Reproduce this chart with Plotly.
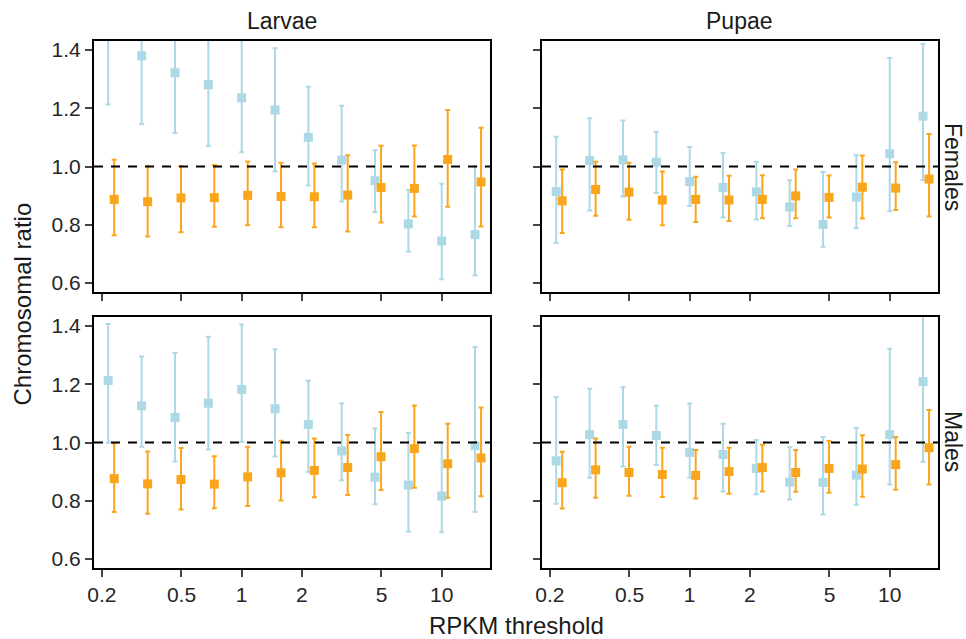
import plotly.graph_objects as go

# ---------------- data ----------------
thresholds = [0.215, 0.316, 0.464, 0.681, 1.0, 1.468, 2.154, 3.162, 4.642, 6.813, 10.0, 14.68]
x_tickvals = [0.2, 0.5, 1, 2, 5, 10]
x_ticktext = ["0.2", "0.5", "1", "2", "5", "10"]
y_tickvals = [0.6, 0.8, 1.0, 1.2, 1.4]
y_ticktext = ["0.6", "0.8", "1.0", "1.2", "1.4"]
ref_ratio = 1.0
stages = ["Larvae", "Pupae"]
sexes = ["Females", "Males"]

# Larvae / Females
lf_blue_mean = [1.52, 1.380, 1.322, 1.281, 1.236, 1.194, 1.100, 1.022, 0.951, 0.803, 0.744, 0.766]
lf_blue_lo = [1.213, 1.146, 1.115, 1.070, 1.049, 0.983, 0.935, 0.880, 0.844, 0.708, 0.613, 0.626]
lf_blue_hi = [1.83, 1.61, 1.53, 1.49, 1.44, 1.406, 1.274, 1.209, 1.056, 0.919, 0.941, 1.000]
lf_orange_mean = [0.887, 0.879, 0.892, 0.893, 0.901, 0.897, 0.896, 0.902, 0.928, 0.925, 1.024, 0.947]
lf_orange_lo = [0.764, 0.760, 0.774, 0.793, 0.798, 0.791, 0.791, 0.777, 0.808, 0.828, 0.862, 0.794]
lf_orange_hi = [1.023, 1.001, 1.001, 1.005, 1.017, 1.013, 1.010, 1.039, 1.071, 1.072, 1.194, 1.133]

# Pupae / Females
pf_blue_mean = [0.914, 1.020, 1.023, 1.015, 0.948, 0.928, 0.913, 0.861, 0.801, 0.895, 1.044, 1.173]
pf_blue_lo = [0.737, 0.849, 0.897, 0.909, 0.864, 0.825, 0.818, 0.796, 0.724, 0.788, 0.846, 0.954]
pf_blue_hi = [1.102, 1.166, 1.158, 1.119, 1.067, 1.046, 1.016, 0.953, 0.981, 1.039, 1.373, 1.421]
pf_orange_mean = [0.882, 0.921, 0.912, 0.885, 0.887, 0.885, 0.887, 0.899, 0.894, 0.929, 0.926, 0.957]
pf_orange_lo = [0.772, 0.831, 0.817, 0.798, 0.809, 0.813, 0.822, 0.822, 0.825, 0.821, 0.851, 0.828]
pf_orange_hi = [0.990, 1.016, 1.013, 0.983, 0.965, 0.968, 0.970, 0.990, 0.969, 1.038, 1.015, 1.112]

# Larvae / Males
lm_blue_mean = [1.213, 1.126, 1.086, 1.135, 1.182, 1.116, 1.062, 0.971, 0.881, 0.854, 0.816, 0.989]
lm_blue_lo = [0.999, 0.985, 0.935, 0.976, 1.003, 0.952, 0.899, 0.870, 0.788, 0.694, 0.692, 0.762]
lm_blue_hi = [1.407, 1.295, 1.307, 1.363, 1.405, 1.320, 1.212, 1.135, 1.048, 1.033, 1.000, 1.328]
lm_orange_mean = [0.876, 0.858, 0.873, 0.857, 0.882, 0.896, 0.904, 0.914, 0.951, 0.979, 0.927, 0.947]
lm_orange_lo = [0.761, 0.755, 0.770, 0.774, 0.782, 0.801, 0.812, 0.820, 0.837, 0.845, 0.810, 0.815]
lm_orange_hi = [0.997, 0.969, 0.981, 0.953, 0.985, 1.006, 1.014, 1.026, 1.105, 1.127, 1.064, 1.120]

# Pupae / Males
pm_blue_mean = [0.937, 1.027, 1.062, 1.024, 0.966, 0.959, 0.911, 0.864, 0.863, 0.888, 1.027, 1.209]
pm_blue_lo = [0.790, 0.879, 0.918, 0.923, 0.879, 0.832, 0.822, 0.804, 0.753, 0.786, 0.856, 0.934]
pm_blue_hi = [1.156, 1.185, 1.190, 1.127, 1.134, 1.064, 1.009, 0.984, 1.019, 1.050, 1.322, 1.48]
pm_orange_mean = [0.862, 0.906, 0.897, 0.890, 0.887, 0.900, 0.914, 0.897, 0.911, 0.909, 0.924, 0.982]
pm_orange_lo = [0.773, 0.810, 0.817, 0.813, 0.808, 0.824, 0.832, 0.831, 0.827, 0.814, 0.838, 0.856]
pm_orange_hi = [0.968, 1.014, 0.985, 0.982, 0.974, 0.982, 0.992, 0.974, 1.005, 1.025, 1.019, 1.112]

# ---------------- styling ----------------
BLUE = "#ADD8E6"
ORANGE = "#F9A61C"
FONT = "Liberation Sans, Arial, Helvetica, sans-serif"
DODGE = 10 ** 0.03  # orange offset factor on the log axis

panels = [
    ("", (lf_blue_mean, lf_blue_lo, lf_blue_hi), (lf_orange_mean, lf_orange_lo, lf_orange_hi)),
    ("2", (pf_blue_mean, pf_blue_lo, pf_blue_hi), (pf_orange_mean, pf_orange_lo, pf_orange_hi)),
    ("3", (lm_blue_mean, lm_blue_lo, lm_blue_hi), (lm_orange_mean, lm_orange_lo, lm_orange_hi)),
    ("4", (pm_blue_mean, pm_blue_lo, pm_blue_hi), (pm_orange_mean, pm_orange_lo, pm_orange_hi)),
]

fig = go.Figure()

for suf, blue, orange in panels:
    for (mean, lo, hi), col, shift, name in [
        (blue, BLUE, 1.0, "blue"),
        (orange, ORANGE, DODGE, "orange"),
    ]:
        fig.add_trace(go.Scatter(
            x=[t * shift for t in thresholds],
            y=mean,
            mode="markers",
            name=name,
            showlegend=False,
            marker=dict(symbol="square", size=9, color=col),
            error_y=dict(
                type="data", symmetric=False,
                array=[h - m for h, m in zip(hi, mean)],
                arrayminus=[m - l for m, l in zip(mean, lo)],
                color=col, thickness=2, width=2.5,
            ),
            xaxis="x" + suf, yaxis="y" + suf,
            cliponaxis=True,
        ))
    fig.add_shape(type="line", xref=f"x{suf} domain", yref="y" + suf,
                  x0=0, x1=1, y0=ref_ratio, y1=ref_ratio,
                  line=dict(color="black", width=2, dash="9px,8px"), layer="above")

# axes / layout geometry (pixels of the 966x639 page)
L, R, T, B = 94, 28, 41, 71
W, H = 966, 639
PW, PH = W - L - R, H - T - B
xdom = [[0, 396 / PW], [(542 - L) / PW, 1]]
ydom = [[(568 - 292) / PH, 1], [0, (568 - 317) / PH]]

xrange_log = [-0.7385, 1.2415]
yrange = [0.569, 1.431]

common_axis = dict(
    showline=True, linecolor="black", linewidth=2, mirror=True,
    ticks="outside", ticklen=7, tickwidth=2, tickcolor="#444444",
    showgrid=False, zeroline=False,
    tickfont=dict(family=FONT, size=21, color="#262626"),
)

layout_axes = {}
for i, suf in enumerate(["", "2", "3", "4"]):
    row, col = divmod(i, 2)
    layout_axes["xaxis" + suf] = dict(
        common_axis, type="log", range=xrange_log, domain=xdom[col],
        anchor="y" + suf, tickvals=x_tickvals, ticktext=x_ticktext,
        showticklabels=(row == 1),
    )
    layout_axes["yaxis" + suf] = dict(
        common_axis, range=yrange, domain=ydom[row],
        anchor="x" + suf, tickvals=y_tickvals, ticktext=y_ticktext,
        showticklabels=(col == 0),
    )


def px_x(px):
    return (px - L) / PW


def px_y(py):
    return (H - B - py) / PH


def label(text, x, y, size=23, angle=0):
    return dict(text=text, x=px_x(x), y=px_y(y), xref="paper", yref="paper",
                showarrow=False, textangle=angle,
                font=dict(family=FONT, size=size, color="#1a1a1a"),
                xanchor="center", yanchor="middle")


annotations = [
    label(stages[0], 282, 21.5),
    label(stages[1], 739, 21.5),
    label(sexes[0], 953, 167, angle=90),
    label(sexes[1], 953, 441, angle=90),
    label("RPKM threshold", 516.5, 625, size=24),
    label("Chromosomal ratio", 22, 304.5, size=24, angle=-90),
]

fig.update_layout(
    width=W, height=H,
    margin=dict(l=L, r=R, t=T, b=B, pad=0),
    paper_bgcolor="white", plot_bgcolor="white",
    showlegend=False,
    annotations=annotations,
    **layout_axes,
)

fig.write_html("out.html", include_plotlyjs=True, full_html=True,
               config={"displayModeBar": False},
               post_script="document.body.style.margin='0';document.body.style.overflow='hidden';")
